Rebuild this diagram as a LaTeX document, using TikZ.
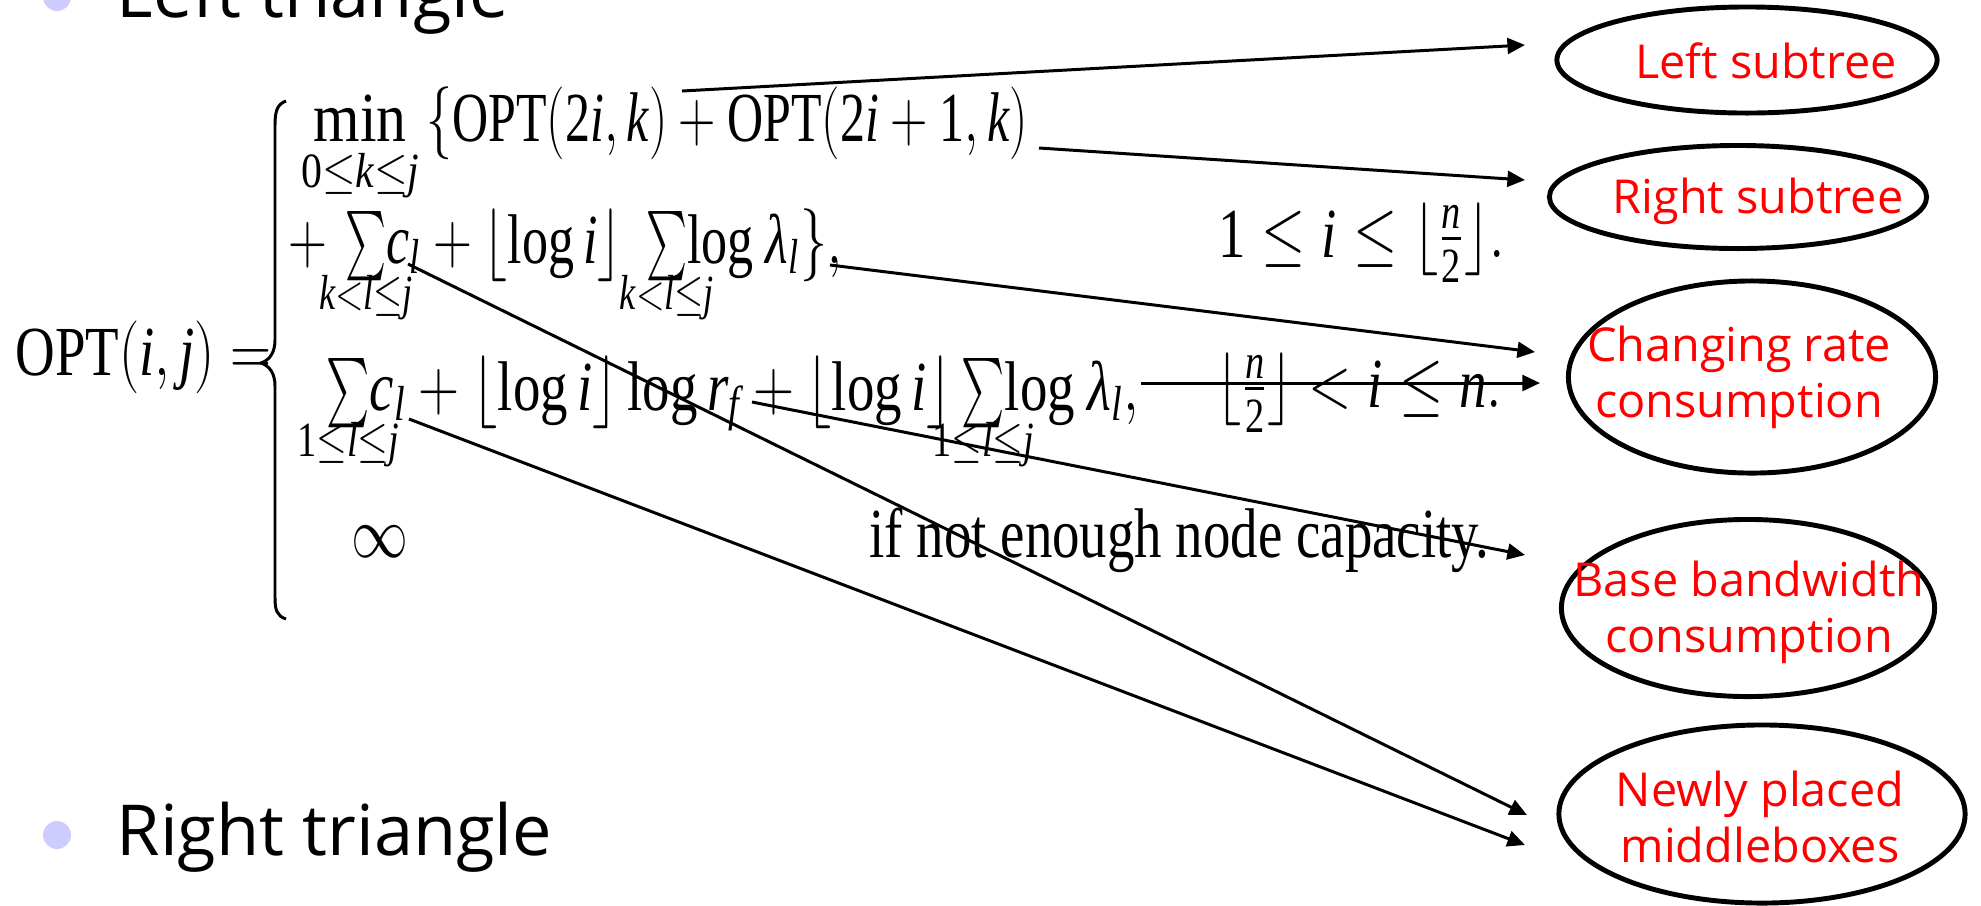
\documentclass[tikz,border=0pt]{standalone}
\usepackage{graphicx}
\usepackage{amsmath,mathtools}
\usepackage{mathspec}
\setmainfont{Liberation Serif}
\setmathsfont(Digits,Latin,Greek){Liberation Serif}
\setmathrm{Liberation Serif}
\newfontfamily\handfont{Open Sans}
\usetikzlibrary{arrows.meta,shapes.geometric}
\definecolor{tagred}{HTML}{FF0000}
\definecolor{dotblue}{HTML}{CCCCFF}
\newcommand{\sqz}[2][0.78]{\scalebox{#1}[1]{#2}}
\newcommand{\tsum}[1]{\mathop{\smash[b]{\scalebox{0.72}[0.95]{$\textstyle\sum$}}}\limits_{\mathclap{#1}}}
\tikzset{
  eqpart/.style={inner sep=0pt,anchor=base west,font=\fontsize{20}{24}\selectfont},
  heading/.style={inner sep=0pt,anchor=base west,font=\handfont\fontsize{20}{24}\selectfont},
  tag/.style={ellipse,draw=black,line width=1.4pt,inner sep=0pt},
  tagtext/.style={inner sep=0pt,anchor=base,align=center,text=tagred,
                  font=\handfont\fontsize{13.3}{15.65}\selectfont},
  ptr/.style={-{Triangle[length=5pt,width=4.5pt]},line width=0.85pt}
}

\begin{document}
\begin{tikzpicture}[x=0.01cm,y=-0.01cm]
  \useasboundingbox (0,0) rectangle (1981,905);
  % bullets and headings
  \fill[dotblue] (57,-3) circle (0.14cm);
  \fill[dotblue] (57,835) circle (0.14cm);
  \node[heading] (lefttri) at (116,17) {Left triangle};
  \node[heading] (righttri) at (116,855) {Right triangle};

  % the recurrence
  \node[eqpart] (lhs) at (15,375) {\sqz{$\mathrm{OPT}(i,j)=$}};
  \draw[line width=0.85pt] (286,101) .. controls (277,104) and (275,112) .. (275,125)
    -- (275,340) .. controls (275,352) and (270,360) .. (261,363)
    .. controls (270,366) and (275,374) .. (275,386)
    -- (275,598) .. controls (275,610) and (277,616) .. (286,619);
  \node[eqpart] (row1) at (313,141)
    {\sqz[0.85]{$\min\limits_{\mathclap{0\le k\le j}}$}\hspace{0.2cm}%
     \sqz[0.71]{$\{\mathrm{OPT}(2i,k)+\mathrm{OPT}(2i+1,k)$}};
  \node[eqpart] (row2) at (288,263)
    {\sqz[0.74]{$+\,\tsum{k<l\le j}\!c_l+\lfloor\log i\rfloor\hspace{6pt}\tsum{k<l\le j}\!\log\lambda_l\},$}};
  \node[eqpart] (cond2) at (1218,257) {\sqz{$1\le i\le\lfloor\frac{n}{2}\rfloor.$}};
  \node[eqpart] (row3) at (326,410)
    {\sqz{$\tsum{1\le l\le j}\!c_l+\lfloor\log i\rfloor\log r_f+\lfloor\log i\rfloor\tsum{1\le l\le j}\!\log\lambda_l,$}};
  \node[eqpart] (cond3) at (1216,407) {\sqz{$\lfloor\frac{n}{2}\rfloor<i\le n.$}};
  \node[eqpart] (row4) at (351,557) {\sqz{$\infty$}};
  \node[eqpart] (cond4) at (869,557) {\sqz{if not enough node capacity.}};

  % what each term stands for
  \node[tag,minimum width=3.80cm,minimum height=1.06cm] (lsub) at (1747,60) {};
  \node[tag,minimum width=3.77cm,minimum height=1.03cm] (rsub) at (1738,197) {};
  \node[tag,minimum width=3.67cm,minimum height=1.92cm] (crate) at (1752,377) {};
  \node[tag,minimum width=3.73cm,minimum height=1.77cm] (bband) at (1748,608) {};
  \node[tag,minimum width=4.06cm,minimum height=1.78cm] (newmb) at (1762,814) {};
  \node[tagtext] (lsubt) at (1766,78) {Left subtree};
  \node[tagtext] (rsubt) at (1758,213) {Right subtree};
  \node[tagtext] (cratet) at (1739,417) {Changing rate\\consumption};
  \node[tagtext] (bbandt) at (1749,652) {Base bandwidth\\consumption};
  \node[tagtext] (newmbt) at (1760,862) {Newly placed\\middleboxes};

  \coordinate (s1) at (682,91);   \coordinate (e1) at (1525,45);
  \coordinate (s2) at (1039,148); \coordinate (e2) at (1525,180);
  \coordinate (s3) at (830,265);  \coordinate (e3) at (1535,352);
  \coordinate (s4) at (1141,383); \coordinate (e4) at (1540,383);
  \coordinate (s5) at (752,402);  \coordinate (e5) at (1525,555);
  \coordinate (s6) at (408,264);  \coordinate (e6) at (1527,815);
  \coordinate (s7) at (409,419);  \coordinate (e7) at (1525,845);
  \foreach \a/\b in {s1/e1,s2/e2,s3/e3,s4/e4,s5/e5,s6/e6,s7/e7}
    \draw[ptr] (\a) -- (\b);
\end{tikzpicture}
\end{document}
